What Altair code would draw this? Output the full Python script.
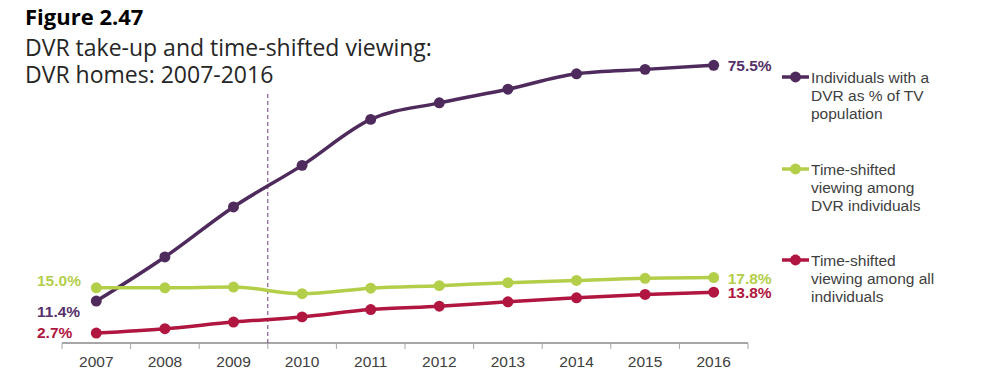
import altair as alt
import pandas as pd

years = [2007, 2008, 2009, 2010, 2011, 2012, 2013, 2014, 2015, 2016]
dvr_individuals = [11.4, 23.4, 37.0, 48.3, 60.8, 65.3, 69.0, 73.2, 74.4, 75.5]
ts_dvr = [15.0, 15.0, 15.2, 13.4, 14.9, 15.6, 16.4, 17.0, 17.6, 17.8]
ts_all = [2.7, 3.9, 5.7, 7.1, 9.1, 10.0, 11.2, 12.3, 13.2, 13.8]

series_names = [
    "Individuals with a DVR as % of TV population",
    "Time-shifted viewing among DVR individuals",
    "Time-shifted viewing among all individuals",
]
legend_lines = [
    ["Individuals with a", "DVR as % of TV", "population"],
    ["Time-shifted", "viewing among", "DVR individuals"],
    ["Time-shifted", "viewing among all", "individuals"],
]
colors = ["#4f2a5c", "#b3cf4a", "#b0163f"]
label_colors = ["#56306a", "#b3cf4a", "#b0163f"]
divider_year = [2010]
divider_top = [68.0]
title_lines = ["Figure 2.47", "DVR take-up and time-shifted viewing:", "DVR homes: 2007-2016"]

rows = []
for name, vals in zip(series_names, [dvr_individuals, ts_dvr, ts_all]):
    for y, v in zip(years, vals):
        rows.append({"year": y, "value": v, "series": name, "label": f"{v:.1f}%"})
df = pd.DataFrame(rows)

FONT = "Liberation Sans"
TFONT = "Open Sans"
AXIS_GRAY = "#a6a6a6"

x_scale = alt.Scale(type="band", paddingInner=0, paddingOuter=0)
x_enc = alt.X("year:O", scale=x_scale, axis=None)
y_scale = alt.Scale(domain=[0, 90], nice=False, zero=True)
y_enc = alt.Y("value:Q", scale=y_scale, axis=None)
color_enc = alt.Color("series:N", scale=alt.Scale(domain=series_names, range=colors), legend=None)

base = alt.Chart(df)
lines = base.mark_line(strokeWidth=3.5, interpolate="monotone").encode(x=x_enc, y=y_enc, color=color_enc)
points = base.mark_circle(size=120, opacity=1).encode(x=x_enc, y=y_enc, color=color_enc)

year_df = pd.DataFrame({"year": years})

# x axis drawn by hand: domain line, ticks at band edges, labels at band centres
domain_line = alt.Chart(year_df).mark_rule(color=AXIS_GRAY, strokeWidth=1).encode(
    x=alt.value(0), x2=alt.value(686), y=alt.value(331)
)
ticks_start = alt.Chart(year_df).mark_rule(color=AXIS_GRAY, strokeWidth=1).encode(
    x=alt.X("year:O", bandPosition=0, axis=None), y=alt.value(331), y2=alt.value(337)
)
ticks_end = alt.Chart(pd.DataFrame({"year": years[-1:]})).mark_rule(
    color=AXIS_GRAY, strokeWidth=1
).encode(x=alt.X("year:O", bandPosition=1, axis=None), y=alt.value(331), y2=alt.value(337))
axis_labels = alt.Chart(year_df).mark_text(
    align="center", baseline="middle", font=FONT, fontSize=15.5, color="#404040"
).encode(x=x_enc, y=alt.value(350), text=alt.Text("year:O"))

divider = alt.Chart(pd.DataFrame({"year": divider_year, "y0": [0.0], "y1": divider_top})).mark_rule(
    color="#6b3a7a", strokeWidth=1, strokeDash=[4, 3]
).encode(
    x=alt.X("year:O", bandPosition=0, axis=None),
    y=alt.Y("y0:Q", scale=y_scale, axis=None),
    y2="y1:Q",
)

layers = [domain_line, ticks_start, ticks_end, axis_labels, divider, lines, points]

first_dy = [10.7, -7, 0.4]
legend_y = [65, 157, 248]
for i, name in enumerate(series_names):
    sub = df[df.series == name]
    first = sub[sub.year == years[0]]
    last = sub[sub.year == years[-1]]
    layers.append(
        alt.Chart(last).mark_text(
            align="left", baseline="middle", dx=14, dy=1, font=FONT, fontSize=15.5,
            fontWeight="bold", color=label_colors[i]
        ).encode(x=x_enc, y=y_enc, text="label:N")
    )
    layers.append(
        alt.Chart(first).mark_text(
            align="left", baseline="middle", dy=first_dy[i], font=FONT, fontSize=15.5,
            fontWeight="bold", color=label_colors[i]
        ).encode(x=alt.value(-25), y=y_enc, text="label:N")
    )
    ly = legend_y[i]
    leg_df = pd.DataFrame({"series": [name], "txt": ["\n".join(legend_lines[i])]})
    layers.append(
        alt.Chart(leg_df).mark_rule(strokeWidth=3.5).encode(
            x=alt.value(720), x2=alt.value(747), y=alt.value(ly), color=color_enc
        )
    )
    layers.append(
        alt.Chart(leg_df).mark_circle(size=120, opacity=1).encode(
            x=alt.value(733.5), y=alt.value(ly), color=color_enc
        )
    )
    layers.append(
        alt.Chart(leg_df).mark_text(
            align="left", baseline="top", font=FONT, fontSize=15.5, color="#404040",
            lineHeight=18.3, lineBreak="\n"
        ).encode(x=alt.value(749), y=alt.value(ly - 6.3), text="txt:N")
    )

layers.append(
    alt.Chart(pd.DataFrame({"t": [title_lines[0]]})).mark_text(
        align="left", baseline="alphabetic", font=TFONT, fontSize=22, fontWeight="bold",
        color="#000000"
    ).encode(x=alt.value(-37), y=alt.value(13), text="t:N")
)
for txt, yy in zip(title_lines[1:], [44, 71]):
    layers.append(
        alt.Chart(pd.DataFrame({"t": [txt]})).mark_text(
            align="left", baseline="alphabetic", font=TFONT, fontSize=23,
            color="#262626"
        ).encode(x=alt.value(-37), y=alt.value(yy), text="t:N")
    )

chart = alt.layer(*layers).properties(
    width=686, height=331,
    padding={"left": 54, "top": 4, "right": 230, "bottom": 28},
    autosize=alt.AutoSizeParams(type="none"),
).configure_view(stroke=None)

chart.save("out.html", embed_options={"renderer": "svg", "actions": False})
